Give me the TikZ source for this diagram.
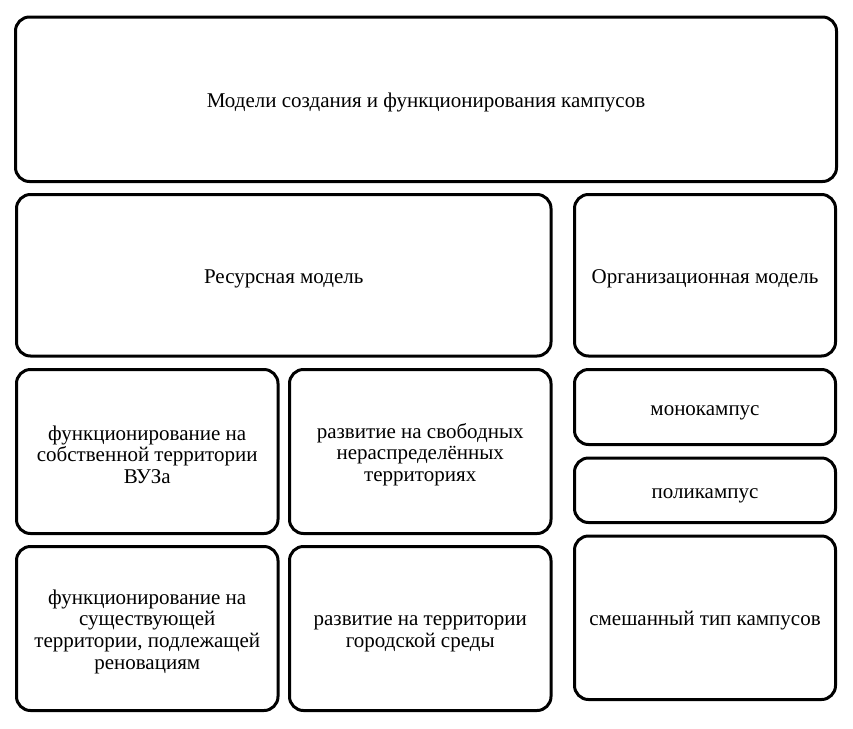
\documentclass[tikz,border=0pt]{standalone}
\usepackage{fontspec}
\setmainfont{Liberation Serif}
\usetikzlibrary{positioning}
\definecolor{campInk}{HTML}{000000}
\newcommand{\campstrut}{\rule{0pt}{21pt}}
\tikzset{
  every picture/.style={font=\fontsize{21}{21.7}\selectfont, text=campInk},
  camp box/.style={draw=campInk, line width=3pt, rounded corners=14pt,
    fill=white, align=center, inner sep=0pt},
  camp wide/.style={camp box, minimum width=821pt, minimum height=164.5pt},
  camp half/.style={camp box, minimum width=534.5pt, minimum height=161.5pt},
  camp side/.style={camp box, minimum width=261pt},
  camp cell/.style={camp box, minimum width=261.5pt, minimum height=164pt}
}
\begin{document}
\begin{tikzpicture}[x=1pt,y=-1pt]
  \useasboundingbox (0,0) rectangle (853,728);
  \node[camp wide] (models) at (426,99.25) {\campstrut Модели создания и функционирования кампусов};
  \node[camp half] (resource) at (283.75,275.25) {\campstrut Ресурсная модель};
  \node[camp side, minimum height=161.5pt] (organise) at (705,275.25) {\campstrut Организационная модель};
  \node[camp cell] (ownland) at (147.25,451.5) {\campstrut функционирование на\\собственной территории\\ВУЗа};
  \node[camp cell] (freeland) at (420.25,451.5) {\campstrut развитие на свободных\\нераспределённых\\территориях};
  \node[camp cell] (renovate) at (147.25,628.5) {\campstrut функционирование на\\существующей\\территории, подлежащей\\реновациям};
  \node[camp cell] (cityland) at (420.25,628.5) {\campstrut развитие на территории\\городской среды};
  \node[camp side, minimum height=75pt] (mono) at (705,407) {\campstrut монокампус};
  \node[camp side, minimum height=64.5pt] (poly) at (705,490.25) {\campstrut поликампус};
  \node[camp side, minimum height=163.5pt] (mixed) at (705,617.75) {\campstrut смешанный тип кампусов};
\end{tikzpicture}
\end{document}
